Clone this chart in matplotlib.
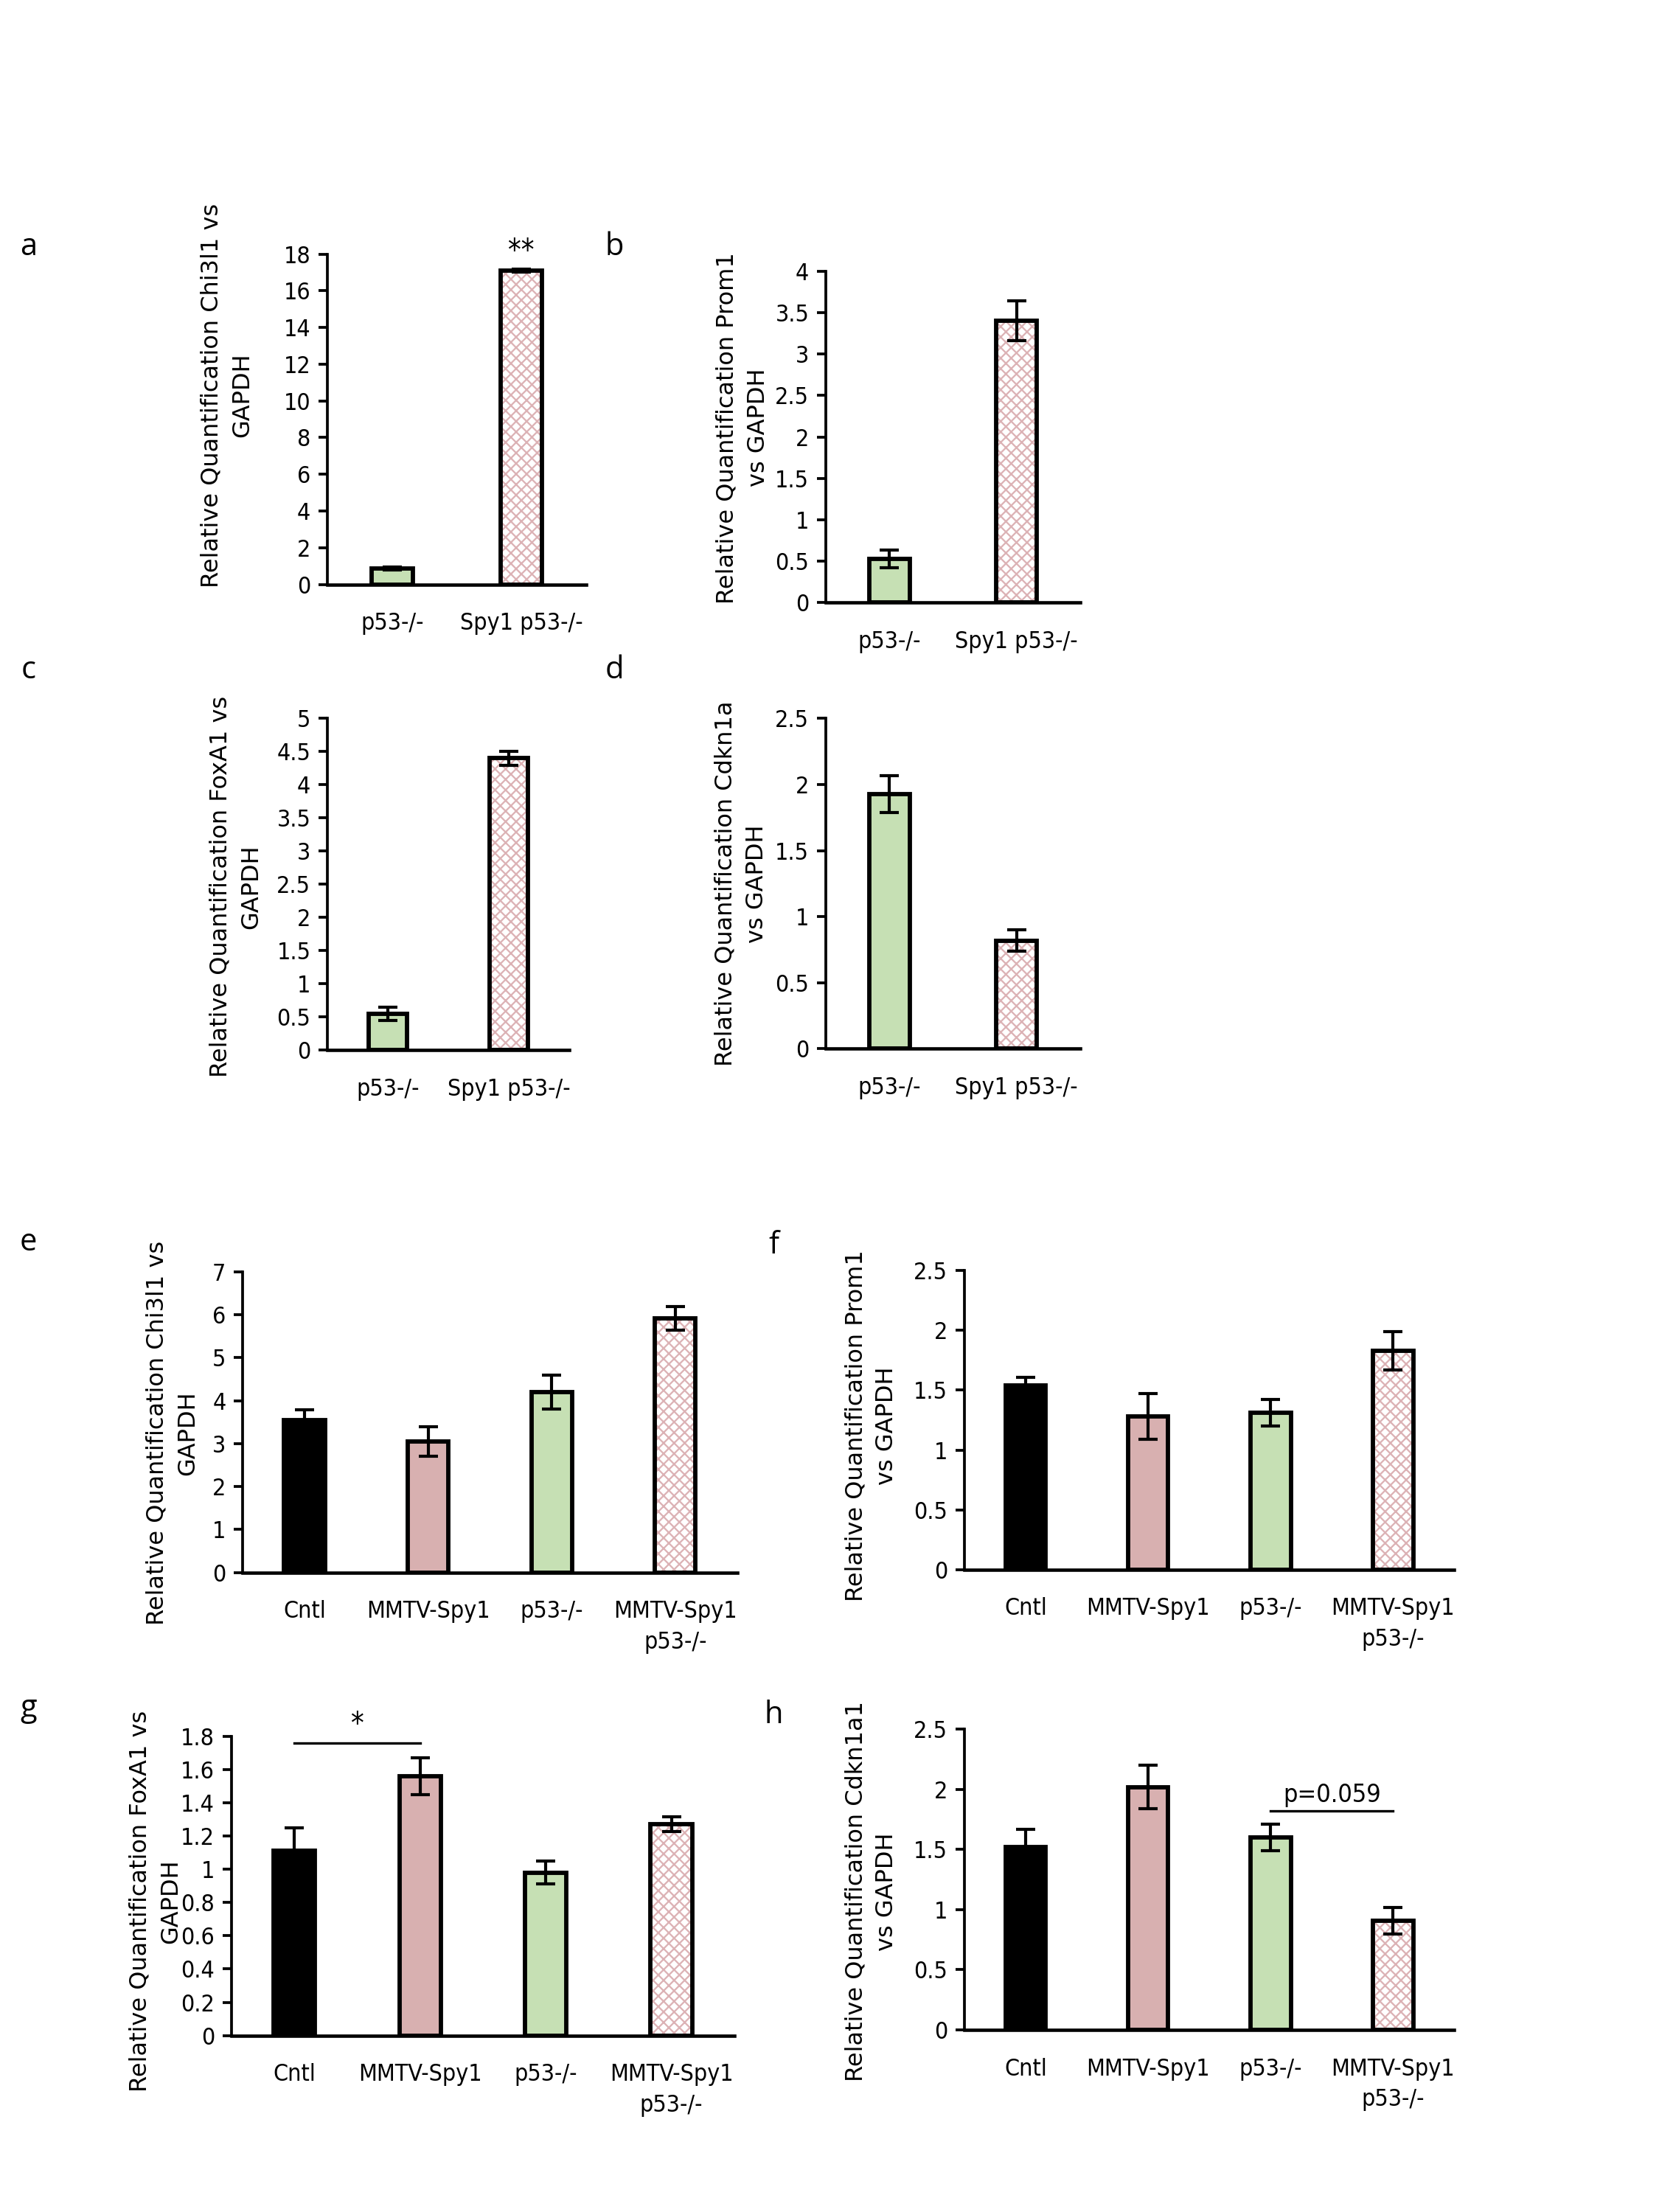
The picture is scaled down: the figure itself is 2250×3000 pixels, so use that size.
import matplotlib
matplotlib.use('Agg')
import matplotlib.pyplot as plt
from matplotlib import font_manager
import numpy as np

# ---------------- data ----------------
cats2 = ["p53-/-", "Spy1 p53-/-"]
cats4 = ["Cntl", "MMTV-Spy1", "p53-/-", "MMTV-Spy1\np53-/-"]

a_vals = [0.85, 17.1]
a_err = [0.08, 0.10]
b_vals = [0.53, 3.40]
b_err = [0.11, 0.24]
c_vals = [0.55, 4.40]
c_err = [0.10, 0.11]
d_vals = [1.93, 0.82]
d_err = [0.14, 0.08]

e_vals = [3.55, 3.05, 4.20, 5.92]
e_err = [0.24, 0.35, 0.40, 0.28]
f_vals = [1.54, 1.28, 1.31, 1.83]
f_err = [0.07, 0.19, 0.11, 0.16]
g_vals = [1.11, 1.56, 0.98, 1.27]
g_err = [0.14, 0.11, 0.07, 0.045]
h_vals = [1.52, 2.02, 1.60, 0.91]
h_err = [0.15, 0.18, 0.11, 0.11]

ylabels = {
    'a': "Relative Quantification Chi3l1 vs\nGAPDH",
    'b': "Relative Quantification Prom1\nvs GAPDH",
    'c': "Relative Quantification FoxA1 vs\nGAPDH",
    'd': "Relative Quantification Cdkn1a\nvs GAPDH",
    'e': "Relative Quantification Chi3l1 vs\nGAPDH",
    'f': "Relative Quantification Prom1\nvs GAPDH",
    'g': "Relative Quantification FoxA1 vs\nGAPDH",
    'h': "Relative Quantification Cdkn1a1\nvs GAPDH",
}

# ---------------- style ----------------
GREEN = '#c6e0b4'
PINK = '#d8b0b0'
HATCH_PINK = '#dcb2b5'
BLACK = '#000000'
styles2 = ['green', 'hatch']
styles4 = ['black', 'pink', 'green', 'hatch']


def pick_tick_font():
    names = {f.name for f in font_manager.fontManager.ttflist}
    if 'Liberation Sans Narrow' in names:
        return dict(family='Liberation Sans Narrow'), 8.8
    for f in font_manager.fontManager.ttflist:
        if f.name == 'DejaVu Sans' and 'ondensed' in str(f.stretch) and f.style == 'normal' \
                and f.weight in (400, 'normal', 'regular'):
            return dict(fontproperties=font_manager.FontProperties(fname=f.fname)), 7.7
    return dict(family='Liberation Sans'), 7.7


TICKKW, TICKSIZE = pick_tick_font()


def tick_fp(size):
    if 'fontproperties' in TICKKW:
        fp = TICKKW['fontproperties'].copy()
        fp.set_size(size)
        return fp
    return font_manager.FontProperties(family=TICKKW['family'], size=size)


LABFONT = ['DejaVu Sans']

plt.rcParams['hatch.linewidth'] = 0.55

W, H = 1175.0, 1567.0
fig = plt.figure(figsize=(7.5, 10), dpi=300)


def make_axes(x0, x1, y0, y1):
    return fig.add_axes([x0 / W, 1 - y1 / H, (x1 - x0) / W, (y1 - y0) / H])


def draw_panel(box, cats, vals, errs, styles, ymax, ystep, ylabel, lab_x, lab_y, bw):
    ax = make_axes(*box)
    x = np.arange(len(cats))
    for xi, v, s in zip(x, vals, styles):
        if s == 'hatch':
            ax.bar(xi, v, width=bw, color='white', hatch='xxxxxxx',
                   edgecolor=HATCH_PINK, linewidth=0, zorder=2)
            ax.bar(xi, v, width=bw, fill=False, edgecolor='black',
                   linewidth=1.4, zorder=3)
        else:
            fc = {'green': GREEN, 'pink': PINK, 'black': BLACK}[s]
            ax.bar(xi, v, width=bw, color=fc, edgecolor='black',
                   linewidth=1.4, zorder=3)
    ax.errorbar(x, vals, yerr=errs, fmt='none', ecolor='black',
                elinewidth=1.0, capsize=3.2, capthick=1.0, zorder=4)
    ax.set_xlim(-0.5, len(cats) - 0.5)
    ax.set_ylim(0, ymax)
    ticks = np.arange(0, ymax + ystep / 2, ystep)
    ax.set_yticks(ticks)
    ax.set_yticklabels([('%g' % round(t, 3)) for t in ticks], fontproperties=tick_fp(TICKSIZE))
    ax.set_xticks(x)
    ax.set_xticklabels(cats, fontproperties=tick_fp(TICKSIZE), linespacing=1.45)
    for sp in ['top', 'right']:
        ax.spines[sp].set_visible(False)
    ax.spines['left'].set_linewidth(0.9)
    ax.spines['bottom'].set_linewidth(1.1)
    ax.tick_params(axis='y', length=3, width=0.9, direction='out', pad=2.5)
    ax.tick_params(axis='x', length=0, pad=9)
    ax.patch.set_alpha(0)
    fx = (lab_x - box[0]) / (box[1] - box[0])
    fy = 1 - (lab_y - box[2]) / (box[3] - box[2])
    ax.text(fx, fy, ylabel, transform=ax.transAxes, rotation=90,
            ha='center', va='center', family=LABFONT, fontsize=7.7,
            multialignment='center', linespacing=1.45)
    return ax


letters = {'a': (20, 175), 'b': (435, 175), 'c': (20, 475), 'd': (435, 475),
           'e': (20, 880), 'f': (548, 882), 'g': (20, 1210), 'h': (548, 1215)}
for k, (lx, ly) in letters.items():
    fig.text(lx / W, 1 - ly / H, k, fontsize=10, family=['Open Sans', 'DejaVu Sans'],
             ha='center', va='center')

axa = draw_panel((232, 415, 180, 414), cats2, a_vals, a_err, styles2, 18, 2,
                 ylabels['a'], 161, 280, 0.32)
axa.text(1, a_vals[1] + a_err[1] + 0.1, '**', ha='center', va='bottom',
         fontproperties=tick_fp(9.5))

draw_panel((585, 765, 192, 427), cats2, b_vals, b_err, styles2, 4, 0.5,
           ylabels['b'], 526, 303, 0.32)
draw_panel((232, 403, 509, 744), cats2, c_vals, c_err, styles2, 5, 0.5,
           ylabels['c'], 167, 628, 0.32)
draw_panel((585, 765, 509, 743), cats2, d_vals, d_err, styles2, 2.5, 0.5,
           ylabels['d'], 525, 626, 0.32)

draw_panel((172, 522, 901, 1114), cats4, e_vals, e_err, styles4, 7, 1,
           ylabels['e'], 122, 1015, 0.33)
draw_panel((683, 1030, 900, 1112), cats4, f_vals, f_err, styles4, 2.5, 0.5,
           ylabels['f'], 617, 1010, 0.33)
axg = draw_panel((164, 520, 1230, 1442), cats4, g_vals, g_err, styles4, 1.8, 0.2,
                 ylabels['g'], 110, 1347, 0.33)
axg.plot([0, 1], [1.76, 1.76], color='black', lw=0.8, clip_on=False)
axg.text(0.5, 1.775, '*', ha='center', va='bottom', fontproperties=tick_fp(9.5))

axh = draw_panel((683, 1030, 1225, 1438), cats4, h_vals, h_err, styles4, 2.5, 0.5,
                 ylabels['h'], 617, 1340, 0.33)
axh.plot([2, 3], [1.82, 1.82], color='black', lw=0.8)
axh.text(2.5, 1.85, 'p=0.059', ha='center', va='bottom', fontproperties=tick_fp(TICKSIZE + 0.5))

fig.savefig('out.png', dpi=300, facecolor='white')
